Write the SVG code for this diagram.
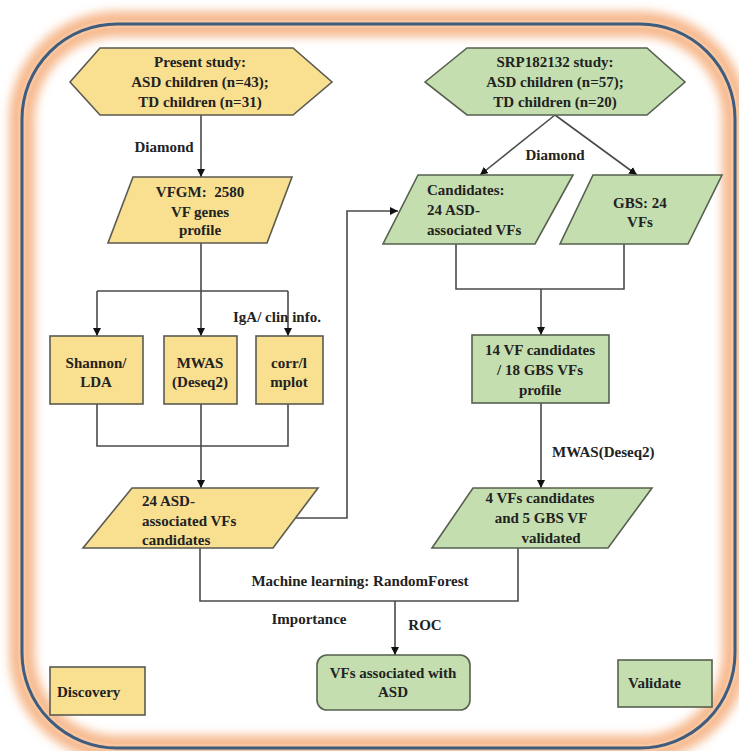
<svg xmlns="http://www.w3.org/2000/svg" width="739" height="751" viewBox="0 0 739 751">
<defs>
<filter id="glow" x="-10%" y="-10%" width="120%" height="120%">
<feGaussianBlur stdDeviation="5"/>
</filter>
<marker id="arr" viewBox="0 0 10 10" refX="10" refY="5" markerWidth="8" markerHeight="8" markerUnits="userSpaceOnUse" orient="auto">
<path d="M0,0 L10,5 L0,10 z" fill="#111"/>
</marker>
<style>
.y{fill:#f9df90;stroke:#5a5a50;stroke-width:1.6}
.g{fill:#c4deb0;stroke:#55604e;stroke-width:1.6}
.c{fill:none;stroke:#4a4a4a;stroke-width:1.6}
text{font-family:"Liberation Serif","Times New Roman",serif;font-weight:bold;font-size:15px;fill:#222}
.m{text-anchor:middle}
</style>
</defs>
<g id="frame">
<rect x="0" y="0" width="739" height="751" fill="#fff"/>
<rect x="22" y="24" width="713" height="724" rx="95" fill="none" stroke="#f6b485" stroke-width="26" filter="url(#glow)" opacity="0.9"/>
<rect x="22" y="24" width="713" height="724" rx="95" fill="none" stroke="#f9c6a0" stroke-width="8"/>
<rect x="22" y="24" width="713" height="724" rx="95" fill="none" stroke="#3d5c7e" stroke-width="3"/>
</g>
<g id="connectors">
<line class="c" x1="201" y1="115" x2="201" y2="177" marker-end="url(#arr)"/>
<line class="c" x1="201" y1="243" x2="201" y2="336" marker-end="url(#arr)"/>
<line class="c" x1="97" y1="291" x2="288" y2="291"/>
<line class="c" x1="97" y1="291" x2="97" y2="336" marker-end="url(#arr)"/>
<line class="c" x1="288" y1="291" x2="288" y2="336" marker-end="url(#arr)"/>
<polyline class="c" points="97,404 97,446 288,446 288,404"/>
<line class="c" x1="201" y1="404" x2="201" y2="488" marker-end="url(#arr)"/>
<polyline class="c" points="296,518 347,518 347,211 398,211" marker-end="url(#arr)"/>
<line class="c" x1="555" y1="115" x2="480" y2="175" marker-end="url(#arr)"/>
<line class="c" x1="555" y1="115" x2="637" y2="175" marker-end="url(#arr)"/>
<polyline class="c" points="456,244 456,289 624,289 624,244"/>
<line class="c" x1="541" y1="289" x2="541" y2="335" marker-end="url(#arr)"/>
<line class="c" x1="541" y1="403" x2="541" y2="488" marker-end="url(#arr)"/>
<polyline class="c" points="200,548 200,601 518,601 518,548"/>
<line class="c" x1="395" y1="601" x2="395" y2="655" marker-end="url(#arr)"/>
<text class="m" x="164" y="152">Diamond</text>
<text class="m" x="555" y="160">Diamond</text>
<text class="m" x="277" y="322">IgA/ clin info.</text>
<text x="552" y="457">MWAS(Deseq2)</text>
<text class="m" x="360" y="586">Machine learning: RandomForest</text>
<text class="m" x="309" y="624">Importance</text>
<text class="m" x="425" y="630">ROC</text>
</g>
<g id="present">
<polygon class="y" points="70,82 100,48 293,48 332,82 293,115 100,115"/>
<text class="m" x="200" y="67">Present study:</text>
<text class="m" x="200" y="87">ASD children (n=43);</text>
<text class="m" x="200" y="107">TD children (n=31)</text>
</g>
<g id="vfgm">
<polygon class="y" points="133,177 292,177 267,243 108,243"/>
<text class="m" x="200" y="197">VFGM:&#160; 2580</text>
<text class="m" x="200" y="217">VF genes</text>
<text class="m" x="200" y="235">profile</text>
</g>
<g id="shannon">
<rect class="y" x="50" y="336" width="93" height="68"/>
<text class="m" x="96" y="368">Shannon/</text>
<text class="m" x="96" y="387">LDA</text>
</g>
<g id="mwas">
<rect class="y" x="164" y="336" width="73" height="68"/>
<text class="m" x="200" y="368">MWAS</text>
<text class="m" x="200" y="387">(Deseq2)</text>
</g>
<g id="corr">
<rect class="y" x="256" y="336" width="67" height="68"/>
<text class="m" x="289" y="368">corr/l</text>
<text class="m" x="289" y="387">mplot</text>
</g>
<g id="asd24">
<polygon class="y" points="132,488 318,488 273,548 83,548"/>
<text x="142" y="506">24 ASD-</text>
<text x="142" y="526">associated VFs</text>
<text x="142" y="545">candidates</text>
</g>
<g id="srp">
<polygon class="g" points="425,82 467,48 647,48 685,82 647,115 467,115"/>
<text class="m" x="555" y="67">SRP182132 study:</text>
<text class="m" x="555" y="87">ASD children (n=57);</text>
<text class="m" x="555" y="107">TD children (n=20)</text>
</g>
<g id="candidates">
<polygon class="g" points="418,175 573,175 535,244 383,244"/>
<text x="427" y="195">Candidates:</text>
<text x="427" y="215">24 ASD-</text>
<text x="427" y="235">associated VFs</text>
</g>
<g id="gbs">
<polygon class="g" points="593,175 722,175 688,244 560,244"/>
<text class="m" x="640" y="208">GBS: 24</text>
<text class="m" x="640" y="227">VFs</text>
</g>
<g id="vf14">
<rect class="g" x="472" y="335" width="137" height="68"/>
<text class="m" x="540" y="355">14 VF candidates</text>
<text class="m" x="540" y="375">/ 18 GBS VFs</text>
<text class="m" x="540" y="395">profile</text>
</g>
<g id="vf4">
<polygon class="g" points="473,488 652,488 608,548 432,548"/>
<text class="m" x="540" y="503">4 VFs candidates</text>
<text class="m" x="541" y="523">and 5 GBS VF</text>
<text class="m" x="551" y="543">validated</text>
</g>
<g id="final">
<rect class="g" x="317" y="655" width="153" height="55" rx="10"/>
<text class="m" x="393" y="678">VFs associated with</text>
<text class="m" x="393" y="697">ASD</text>
</g>
<g id="discovery">
<rect class="y" x="50" y="667" width="95" height="48"/>
<text x="57" y="697">Discovery</text>
</g>
<g id="validate">
<rect class="g" x="618" y="660" width="94" height="47"/>
<text x="628" y="688">Validate</text>
</g>
</svg>
